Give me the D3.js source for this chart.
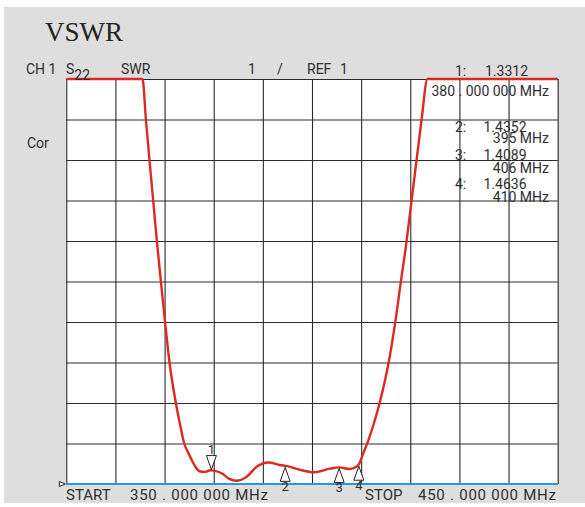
<!DOCTYPE html>
<html>
<head>
<meta charset="utf-8">
<script src="https://cdn.jsdelivr.net/npm/d3@7"></script>
<style>
  body { margin: 0; background: #fff; }
  svg { display: block; }
  .lbl { font-family: Roboto, 'Liberation Sans', sans-serif; fill: #2e2e2e; }
</style>
</head>
<body>
<div id="vswr-chart"></div>
<script>
/* global d3 */

// grid lines (10 MHz / div, 1 unit / div)
const freqGrid = [350, 360, 370, 380, 390, 400, 410, 420, 430, 440, 450];
const vswrGrid = [1, 2, 3, 4, 5, 6, 7, 8, 9, 10, 11];

// trace (MHz, VSWR); clipped at top of screen
const traceFreq = [350, 365.5, 366.2, 366.93, 367.68, 368.43, 369.25, 370.1, 371.0, 372.3,
  373.1, 374.0, 374.9, 375.7, 376.4, 377.2, 378.2, 379.3, 380, 381.7, 383.0, 384.6,
  386.7, 388.8, 391.1, 393.5, 395, 397.6, 400.3, 403.7, 405.5, 407.7, 409.45,
  410.47, 411.5, 412.6, 413.8, 415.6, 416.95, 418.09, 419.25, 420.26, 421.28, 422.3, 423.5, 450];
const traceVswr = [11, 11, 10, 9, 8, 7, 6, 5, 4, 3,
  2.5, 2.0, 1.75, 1.55, 1.40, 1.31, 1.30, 1.34, 1.33, 1.26, 1.14, 1.08,
  1.18, 1.43, 1.53, 1.47, 1.44, 1.35, 1.29, 1.38, 1.41, 1.37, 1.47,
  1.77, 2.09, 2.5, 3.02, 4, 5, 6, 7, 8, 9, 10, 11, 11];

// markers
const markerIds = ['1', '2', '3', '4'];
const markerFreq = [380, 395, 406, 410];
const markerVswr = [1.3312, 1.4352, 1.4089, 1.4636];
const markerValueText = ['1.3312', '1.4352', '1.4089', '1.4636'];
const markerFreqText = ['380 . 000  000 MHz', '395 MHz', '406 MHz', '410 MHz'];

const startText = '350 . 000 000 MHz';
const stopText = '450 . 000 000 MHz';

function drawVswr() {
  const width = 585;
  const height = 507;
  const plot = { left: 66.3, right: 557.7, top: 79, bottom: 484 };

  const svg = d3.select('#vswr-chart').append('svg')
    .attr('width', width)
    .attr('height', height);

  // gray panel
  svg.append('rect')
    .attr('x', 4)
    .attr('y', 7)
    .attr('width', width - 4)
    .attr('height', 496)
    .style('fill', '#dedede');

  const xScale = d3.scaleLinear()
    .domain([350, 450])
    .range([plot.left, plot.right]);

  const yScale = d3.scaleLinear()
    .domain([1, 11])
    .range([plot.bottom, plot.top]);

  svg.append('rect')
    .attr('x', plot.left)
    .attr('y', plot.top)
    .attr('width', plot.right - plot.left)
    .attr('height', plot.bottom - plot.top)
    .style('fill', '#fff');

  // grid via axes
  const xGrid = d3.axisBottom(xScale)
    .tickValues(freqGrid)
    .tickSize(-(plot.bottom - plot.top))
    .tickFormat('');

  svg.append('g')
    .attr('class', 'xGrid')
    .attr('transform', `translate(0,${plot.bottom})`)
    .call(xGrid)
    .call((g) => g.select('.domain').remove())
    .selectAll('line')
    .style('stroke', '#2a2a2a')
    .style('stroke-width', 1.1);

  const yGrid = d3.axisLeft(yScale)
    .tickValues(vswrGrid)
    .tickSize(-(plot.right - plot.left))
    .tickFormat('');

  svg.append('g')
    .attr('class', 'yGrid')
    .attr('transform', `translate(${plot.left},0)`)
    .call(yGrid)
    .call((g) => g.select('.domain').remove())
    .selectAll('line')
    .style('stroke', '#2a2a2a')
    .style('stroke-width', 1.1);

  // reference line (REF 1)
  svg.append('line')
    .attr('x1', xScale(350))
    .attr('x2', xScale(450))
    .attr('y1', yScale(1))
    .attr('y2', yScale(1))
    .style('stroke', '#1f9be0')
    .style('stroke-width', 2);

  // reference position marker
  const ry = yScale(1);
  svg.append('path')
    .attr('d', `M${plot.left - 7},${ry - 2.5}L${plot.left - 1},${ry}L${plot.left - 7},${ry + 2.5}Z`)
    .style('fill', '#fff')
    .style('stroke', '#222')
    .style('stroke-width', 1);

  // trace
  const traceData = traceFreq.map((f, i) => ({ f, v: traceVswr[i] }));
  const traceLine = d3.line()
    .x((d) => xScale(d.f))
    .y((d) => yScale(d.v))
    .curve(d3.curveMonotoneX);

  svg.append('path')
    .datum(traceData)
    .attr('d', traceLine)
    .style('fill', 'none')
    .style('stroke', '#dc2a1f')
    .style('stroke-width', 2.4)
    .style('stroke-linejoin', 'round');

  // marker triangles
  const markerOffset = -2.3;
  const triW = 5;
  const triH = 14;
  markerIds.forEach((id, i) => {
    const mx = xScale(markerFreq[i]) + markerOffset;
    const my = yScale(markerVswr[i]);
    const g = svg.append('g').attr('class', 'marker');
    if (i === 0) {
      const tip = my - 1;
      g.append('path')
        .attr('d', `M${mx},${tip}L${mx - triW},${tip - triH}L${mx + triW},${tip - triH}Z`)
        .style('fill', '#fff')
        .style('stroke', '#222')
        .style('stroke-width', 1);
      g.append('text')
        .attr('class', 'lbl')
        .attr('x', mx)
        .attr('y', tip - 16)
        .style('text-anchor', 'middle')
        .style('font-size', '13px')
        .text(id);
    } else {
      const tip = my + 1;
      g.append('path')
        .attr('d', `M${mx},${tip}L${mx - triW},${tip + triH}L${mx + triW},${tip + triH}Z`)
        .style('fill', '#fff')
        .style('stroke', '#222')
        .style('stroke-width', 1);
      g.append('text')
        .attr('class', 'lbl')
        .attr('x', mx)
        .attr('y', tip + 24)
        .style('text-anchor', 'middle')
        .style('font-size', '13px')
        .text(id);
    }
  });

  // title
  svg.append('text')
    .attr('x', 45)
    .attr('y', 41)
    .style('font-family', "'Liberation Serif', 'Times New Roman', serif")
    .style('font-size', '27px')
    .style('fill', '#222')
    .text('VSWR');

  // header row
  const header = svg.append('g')
    .attr('class', 'lbl')
    .style('font-size', '14px');

  header.append('text').attr('x', 26).attr('y', 74).text('CH 1');
  const sText = header.append('text').attr('x', 66).attr('y', 74);
  sText.append('tspan').text('S');
  sText.append('tspan').attr('dy', 6).text('22');
  header.append('text').attr('x', 121).attr('y', 74).text('SWR');
  header.append('text').attr('x', 248).attr('y', 74).text('1');
  header.append('text').attr('x', 277).attr('y', 74).text('/');
  header.append('text').attr('x', 307).attr('y', 74).text('REF');
  header.append('text').attr('x', 340).attr('y', 74).text('1');
  header.append('text').attr('x', 27).attr('y', 148).text('Cor');

  // marker readout
  const readRows = [76, 131.7, 160, 189.3];
  const readFreqRows = [95.7, 143.3, 172.7, 201.7];
  markerIds.forEach((id, i) => {
    header.append('text')
      .attr('x', 455)
      .attr('y', readRows[i])
      .text(`${id}:`);
    header.append('text')
      .attr('x', i === 0 ? 485 : 483.5)
      .attr('y', readRows[i])
      .text(markerValueText[i]);
    header.append('text')
      .attr('x', 549)
      .attr('y', readFreqRows[i])
      .style('text-anchor', 'end')
      .text(markerFreqText[i]);
  });

  // start / stop
  const footer = svg.append('g')
    .attr('class', 'lbl')
    .style('font-size', '15px');

  footer.append('text').attr('x', 66).attr('y', 500).text('START');
  footer.append('text').attr('x', 130).attr('y', 500)
    .attr('textLength', 138).attr('lengthAdjust', 'spacing').text(startText);
  footer.append('text').attr('x', 365).attr('y', 500).text('STOP');
  footer.append('text').attr('x', 418).attr('y', 500)
    .attr('textLength', 138).attr('lengthAdjust', 'spacing').text(stopText);
}

drawVswr();
</script>
</body>
</html>
